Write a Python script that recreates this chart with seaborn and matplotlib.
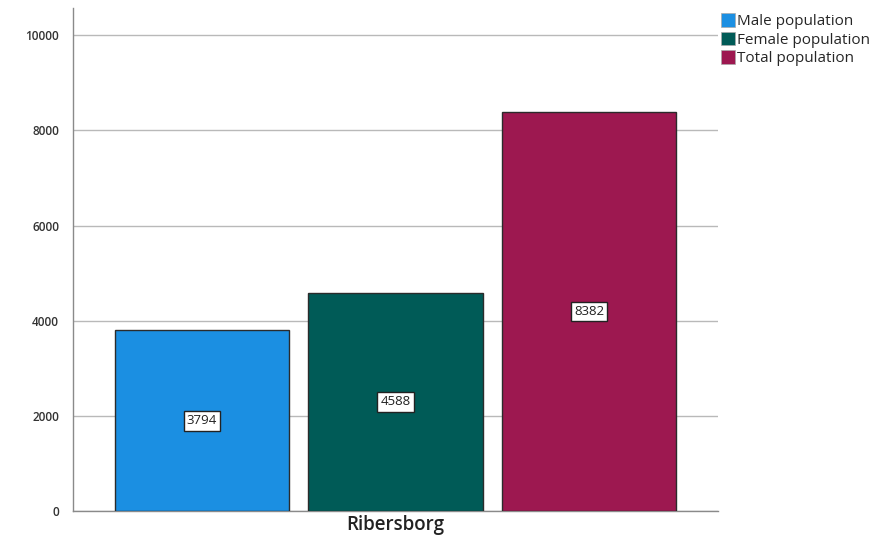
import matplotlib
matplotlib.use("Agg")
import matplotlib.pyplot as plt
import seaborn as sns
import pandas as pd
from matplotlib.patches import Patch

area = ["Ribersborg"]
series = ["Male population", "Female population", "Total population"]
values = [3794, 4588, 8382]
colors = ["#1b8fe2", "#005b57", "#9d1850"]
yticks = [0, 2000, 4000, 6000, 8000, 10000]

df = pd.DataFrame({"area": area * len(series), "series": series, "value": values})

sns.set_theme(style="white")
plt.rcParams["font.family"] = ["Open Sans", "DejaVu Sans"]

fig = plt.figure(figsize=(8.77, 5.41), dpi=100)
ax = fig.add_axes([0.0832, 0.0555, 0.7355, 0.9295])

sns.barplot(data=df, x="area", y="value", hue="series", palette=colors,
            hue_order=series, dodge=True, gap=0.1, width=0.8, saturation=1,
            edgecolor="#2b2b2b", linewidth=1.0, ax=ax, legend=False, zorder=3)

for cont in ax.containers:
    ax.bar_label(cont, labels=[f"{v:.0f}" for v in cont.datavalues], label_type="center",
                 fontsize=9.5, color="#222222",
                 bbox=dict(boxstyle="square,pad=0.25", fc="white", ec="#222222", lw=1.0))

ax.set_ylim(0, 10570)
ax.set_xlim(-0.4445, 0.4445)
ax.set_yticks(yticks)
ax.set_yticklabels([str(t) for t in yticks], fontsize=8.5, color="#333333",
                   fontweight="semibold")
ax.yaxis.grid(True, color="#b9b9b9", lw=1.0, zorder=0)
ax.set_axisbelow(True)
ax.tick_params(axis="y", length=0, pad=10)
ax.tick_params(axis="x", length=0, pad=3, labelcolor="#222222")
for lab in ax.get_xticklabels():
    lab.set_fontsize(13.5)
    lab.set_fontweight("semibold")
ax.set_xlabel("")
ax.set_ylabel("")
for s in ["top", "right"]:
    ax.spines[s].set_visible(False)
for s in ["left", "bottom"]:
    ax.spines[s].set_color("#8a8a8a")
    ax.spines[s].set_linewidth(1.0)

handles = [Patch(facecolor=c, edgecolor="#aaaaaa", lw=0.5) for c in colors]
fig.legend(handles, series, loc="upper left", bbox_to_anchor=(0.815, 0.987),
           frameon=False, fontsize=11, handlelength=0.9, handleheight=1.0,
           handletextpad=0.15, labelspacing=0.15, borderaxespad=0)

fig.savefig("out.png", dpi=100)
